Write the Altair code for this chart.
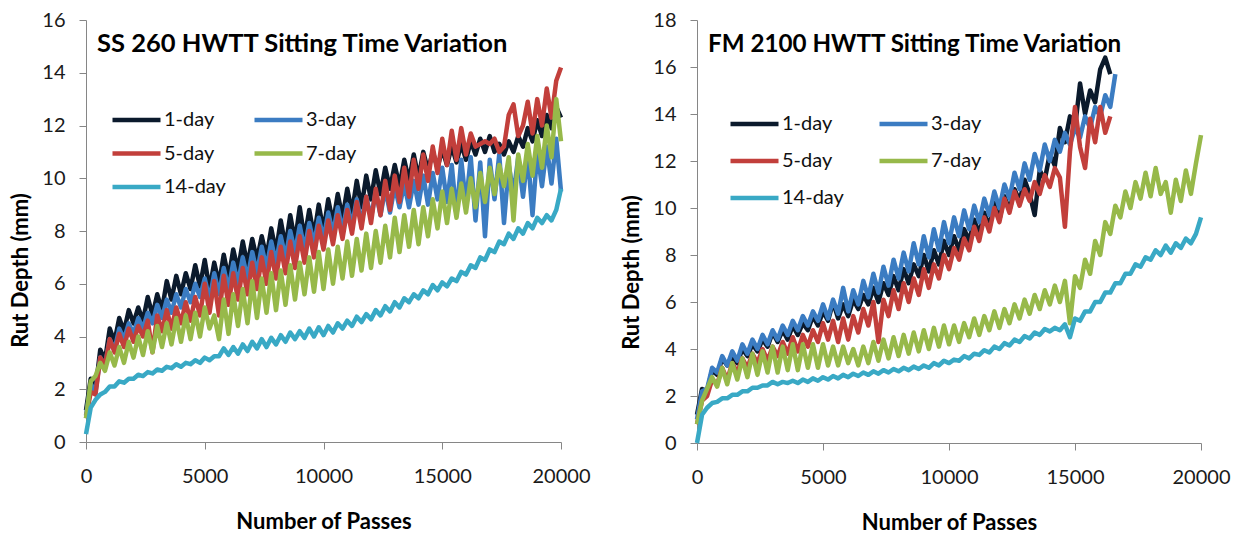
import altair as alt
import pandas as pd

SERIES = ["1-day", "3-day", "5-day", "7-day", "14-day"]
COLORS = ["#0b1a2c", "#3b7cc2", "#c23f3b", "#97b94a", "#39a9c5"]
X_GRID = list(range(0, 20001, 200))  # sampling positions (passes)
X_TICKS = [0, 5000, 10000, 15000, 20000]

# ---- SS 260 (left panel), rut depth (mm) read every 200 passes ----
ss_1day = [1.2, 2.4, 2.0, 3.5, 3.1, 4.3, 3.8, 4.7, 4.2, 5.0,
           4.5, 5.1, 4.6, 5.5, 4.8, 5.6, 5.0, 6.1, 5.4, 6.3,
           5.6, 6.4, 5.8, 6.7, 5.9, 6.9, 5.8, 6.8, 6.0, 7.1,
           6.2, 7.3, 6.5, 7.6, 6.7, 7.7, 6.9, 7.8, 7.0, 8.1,
           7.2, 8.4, 7.4, 8.6, 7.6, 8.9, 7.7, 8.8, 7.8, 9.0,
           8.0, 9.2, 8.3, 9.4, 8.5, 9.6, 8.7, 9.9, 8.9, 10.1,
           9.2, 10.3, 9.4, 10.4, 9.6, 10.5, 9.7, 10.7, 9.9, 10.9,
           10.0, 11.0, 10.3, 11.0, 10.4, 11.1, 10.5, 11.2, 10.6, 11.3,
           10.7, 11.4, 10.9, 11.5, 11.0, 11.6, 11.0, 11.3, 10.9, 11.4,
           11.0, 11.6, 11.2, 11.9, 11.4, 12.2, 11.6, 12.4, 11.9, 12.7,
           12.3]
ss_3day = [1.0, 2.2, 1.9, 3.2, 2.9, 3.9, 3.5, 4.3, 3.9, 4.5,
           4.1, 4.7, 4.3, 4.9, 4.5, 5.2, 4.7, 5.4, 4.9, 5.6,
           5.1, 5.8, 5.3, 6.0, 5.5, 6.2, 5.4, 6.4, 5.6, 6.6,
           5.8, 6.8, 6.0, 7.0, 6.2, 7.2, 6.4, 7.4, 6.6, 7.6,
           6.8, 7.8, 7.0, 8.0, 7.2, 8.2, 7.3, 8.3, 7.5, 8.5,
           7.7, 8.7, 7.9, 8.9, 8.0, 9.0, 8.2, 9.2, 8.3, 9.3,
           8.5, 9.5, 8.6, 9.6, 8.7, 9.7, 8.9, 9.8, 8.9, 9.9,
           9.0, 10.1, 9.0, 10.2, 9.2, 10.4, 9.1, 10.5, 8.6, 10.7,
           9.0, 10.8, 8.4, 10.6, 7.8, 10.7, 9.2, 10.9, 8.3, 10.5,
           9.4, 10.8, 9.3, 10.9, 8.6, 11.0, 9.7, 11.2, 9.8, 11.5,
           9.5]
ss_5day = [0.9, 1.9, 1.8, 3.2, 2.9, 3.9, 3.4, 4.1, 3.6, 4.3,
           3.8, 4.4, 4.0, 4.6, 3.4, 4.8, 4.2, 5.0, 4.3, 5.1,
           4.5, 5.3, 4.6, 5.5, 4.8, 6.0, 4.9, 6.1, 4.8, 6.3,
           5.2, 6.4, 5.4, 6.6, 5.6, 6.8, 5.8, 7.0, 6.0, 7.2,
           6.2, 7.4, 6.4, 7.6, 6.6, 7.8, 6.8, 8.0, 7.0, 8.2,
           7.3, 8.4, 7.5, 8.6, 7.7, 8.8, 7.9, 9.1, 8.1, 9.3,
           8.3, 9.6, 8.6, 9.9, 8.8, 10.1, 9.1, 10.4, 9.3, 10.7,
           9.6, 10.9, 9.9, 11.2, 10.2, 11.5, 10.5, 11.8, 10.7, 11.9,
           10.9, 11.7, 11.2, 11.3, 11.4, 11.3, 11.5, 11.0, 11.2, 12.4,
           12.8, 11.6, 12.0, 12.9, 11.7, 13.0, 12.0, 13.4, 12.3, 13.7,
           14.2]
ss_7day = [0.9, 2.3, 2.5, 3.0, 2.7, 3.4, 2.9, 3.6, 3.0, 3.8,
           3.2, 4.0, 3.3, 4.2, 3.4, 4.4, 3.6, 4.5, 3.7, 4.7,
           3.8, 4.8, 3.9, 4.9, 4.0, 5.1, 4.3, 4.8, 3.9, 5.4,
           4.1, 5.6, 4.4, 5.8, 4.5, 6.1, 4.7, 6.2, 4.9, 6.4,
           5.0, 6.5, 5.2, 6.7, 5.4, 6.8, 5.6, 7.0, 5.7, 7.2,
           5.8, 7.3, 6.0, 7.4, 6.2, 7.6, 6.3, 7.7, 6.5, 7.9,
           6.6, 8.0, 6.8, 8.2, 7.0, 8.5, 7.2, 8.6, 7.4, 8.8,
           7.5, 8.9, 7.8, 9.2, 8.1, 9.5, 8.3, 9.6, 8.5, 9.8,
           8.7, 10.0, 8.9, 10.2, 9.1, 10.4, 9.4, 10.5, 9.7, 10.8,
           8.4, 10.9, 9.9, 11.3, 10.1, 11.6, 10.4, 12.0, 10.8, 13.0,
           11.4]
ss_14day = [0.3, 1.3, 1.6, 1.8, 1.9, 2.1, 2.1, 2.3, 2.25, 2.4,
            2.4, 2.55, 2.5, 2.65, 2.6, 2.75, 2.7, 2.85, 2.8, 2.95,
            2.85, 3.0, 2.95, 3.1, 3.0, 3.2, 3.1, 3.25, 3.25, 3.55,
            3.3, 3.6, 3.35, 3.7, 3.45, 3.8, 3.55, 3.9, 3.6, 3.95,
            3.7, 4.05, 3.8, 4.15, 3.9, 4.2, 3.95, 4.3, 4.0, 4.35,
            4.05, 4.4, 4.15, 4.5, 4.3, 4.6, 4.4, 4.75, 4.55, 4.85,
            4.65, 5.0, 4.8, 5.15, 4.95, 5.3, 5.1, 5.45, 5.3, 5.6,
            5.45, 5.75, 5.6, 5.95, 5.75, 6.05, 5.9, 6.2, 6.1, 6.45,
            6.35, 6.7, 6.6, 7.0, 6.9, 7.3, 7.2, 7.6, 7.5, 7.9,
            7.7, 8.1, 7.9, 8.3, 8.1, 8.5, 8.3, 8.6, 8.4, 8.8,
            9.6]

# ---- FM 2100 (right panel) ----
fm_1day = [1.2, 2.3, 2.2, 3.1, 2.9, 3.6, 3.3, 3.7, 3.4, 4.0,
           3.7, 4.2, 3.9, 4.4, 4.1, 4.7, 4.3, 4.8, 4.4, 5.0,
           4.6, 5.1, 4.8, 5.4, 5.0, 5.6, 5.2, 6.0, 5.3, 5.9,
           5.4, 6.1, 5.7, 6.3, 5.9, 6.6, 6.0, 6.8, 6.3, 7.1,
           6.5, 7.4, 6.8, 7.6, 7.1, 8.0, 7.3, 8.2, 7.6, 8.6,
           8.0, 8.8, 8.2, 9.1, 8.6, 9.5, 8.9, 9.8, 9.2, 10.2,
           9.5, 10.5, 9.9, 10.8, 10.3, 11.2, 10.6, 9.7, 11.6, 11.2,
           12.3, 11.8, 13.4, 12.8, 13.9, 13.4, 15.3, 14.0, 15.0, 14.5,
           15.9, 16.4, 15.7]
fm_3day = [1.0, 2.2, 2.3, 3.2, 3.0, 3.7, 3.3, 3.9, 3.5, 4.2,
           3.8, 4.4, 4.0, 4.6, 4.2, 4.8, 4.4, 5.0, 4.6, 5.2,
           4.8, 5.4, 5.0, 5.6, 5.2, 5.9, 5.3, 6.1, 5.5, 6.6,
           5.6, 6.5, 5.9, 6.9, 6.2, 7.2, 6.4, 7.5, 6.7, 7.8,
           7.0, 8.1, 7.3, 8.5, 7.6, 8.8, 7.9, 9.1, 8.2, 9.4,
           8.5, 9.6, 8.8, 9.9, 9.1, 10.1, 9.4, 10.4, 9.7, 10.7,
           10.0, 11.0, 10.4, 11.5, 10.8, 11.9, 11.2, 12.3, 11.6, 12.7,
           12.0, 12.9, 12.4, 13.2, 12.7, 13.4, 13.0, 13.9, 13.4, 14.3,
           13.9, 14.8, 14.3, 15.7]
fm_5day = [0.8, 1.8, 2.0, 2.7, 2.5, 3.2, 2.7, 3.4, 3.0, 3.6,
           3.2, 3.8, 3.4, 4.0, 3.5, 4.1, 3.7, 4.3, 3.8, 4.5,
           3.9, 4.6, 4.1, 4.8, 4.3, 5.1, 4.4, 5.2, 4.3, 5.3,
           4.4, 5.4, 4.7, 5.7, 5.0, 6.0, 4.3, 6.1, 5.4, 6.5,
           5.7, 6.8, 6.0, 7.0, 6.3, 7.4, 6.6, 7.6, 7.0, 8.0,
           7.4, 8.3, 7.8, 8.7, 8.2, 9.2, 8.6, 9.6, 9.0, 10.0,
           9.4, 10.4, 9.8, 10.7, 10.1, 10.8, 10.3, 11.1, 10.6, 11.4,
           10.9, 11.7, 11.3, 9.2, 12.4, 14.3, 12.6, 11.7, 13.8, 12.8,
           14.3, 13.2, 13.9]
fm_7day = [0.8, 1.8, 2.3, 2.8, 2.4, 3.2, 2.5, 3.4, 2.7, 3.6,
           2.8, 3.8, 2.9, 3.9, 3.0, 4.1, 3.0, 4.1, 3.1, 4.2,
           3.1, 4.2, 3.2, 4.2, 3.2, 4.2, 3.3, 4.1, 3.3, 4.1,
           3.4, 4.0, 3.3, 4.1, 3.4, 4.3, 3.5, 4.4, 3.6, 4.5,
           3.7, 4.6, 3.8, 4.7, 3.9, 4.8, 4.0, 4.9, 4.1, 5.0,
           4.2, 5.0, 4.3, 5.1, 4.5, 5.3, 4.6, 5.4, 4.8, 5.6,
           4.9, 5.7, 5.1, 5.9, 5.3, 6.1, 5.5, 6.3, 5.7, 6.5,
           5.9, 6.7, 6.0, 6.9, 5.1, 7.1, 6.6, 7.8, 7.2, 8.6,
           8.0, 9.4, 8.9, 10.1, 9.6, 10.7, 10.0, 11.1, 10.4, 11.5,
           10.5, 11.7, 10.6, 11.1, 9.8, 11.2, 10.3, 11.6, 10.6, 11.9,
           13.1]
fm_14day = [0.0, 1.2, 1.5, 1.7, 1.75, 1.9, 1.9, 2.05, 2.05, 2.2,
            2.2, 2.35, 2.35, 2.45, 2.45, 2.6, 2.5, 2.6, 2.55, 2.65,
            2.55, 2.7, 2.6, 2.75, 2.65, 2.8, 2.7, 2.85, 2.75, 2.9,
            2.8, 2.95, 2.85, 3.0, 2.9, 3.05, 2.95, 3.1, 3.0, 3.15,
            3.05, 3.2, 3.1, 3.25, 3.15, 3.3, 3.2, 3.4, 3.3, 3.5,
            3.4, 3.55, 3.5, 3.7, 3.6, 3.8, 3.75, 3.95, 3.85, 4.1,
            4.0, 4.25, 4.15, 4.4, 4.3, 4.55, 4.45, 4.7, 4.6, 4.85,
            4.75, 4.9, 4.8, 5.05, 4.5, 5.3, 5.2, 5.6, 5.6, 6.0,
            6.0, 6.4, 6.4, 6.8, 6.8, 7.2, 7.2, 7.6, 7.5, 7.9,
            7.8, 8.2, 8.0, 8.4, 8.1, 8.5, 8.3, 8.7, 8.5, 8.9,
            9.6]

FONT = "Lato"
AXIS_GREY = "#868686"


def frame(lists):
    rows = []
    for name, vals in zip(SERIES, lists):
        for x, v in zip(X_GRID, vals):
            rows.append({"passes": x, "rut": v, "series": name})
    return pd.DataFrame(rows)


def panel(df, title, title_size, ymax, width, height, ytitle_y,
          leg_x, leg_y, col_pad, row_pad):
    lines = alt.Chart(df).mark_line(strokeWidth=4.5, strokeJoin="round").encode(
        x=alt.X("passes:Q",
                scale=alt.Scale(domain=[0, 20000], nice=False),
                axis=alt.Axis(values=X_TICKS, format="d", title="Number of Passes",
                              grid=False, domainColor=AXIS_GREY, tickColor=AXIS_GREY,
                              tickSize=7, labelFont=FONT, labelFontSize=20,
                              labelColor="#1a1a1a", labelPadding=17, labelFlush=False,
                              titleFont=FONT, titleFontSize=22, titleFontWeight="bold",
                              titleColor="#000000", titlePadding=25)),
        y=alt.Y("rut:Q",
                scale=alt.Scale(domain=[0, ymax], nice=False),
                axis=alt.Axis(values=list(range(0, ymax + 1, 2)), title="Rut Depth (mm)",
                              grid=False, domainColor=AXIS_GREY, tickColor=AXIS_GREY,
                              tickSize=7, labelFont=FONT, labelFontSize=20,
                              labelColor="#1a1a1a", labelPadding=14,
                              titleFont=FONT, titleFontSize=22, titleFontWeight="bold",
                              titleColor="#000000", titlePadding=9, titleY=ytitle_y)),
        color=alt.Color("series:N",
                        scale=alt.Scale(domain=SERIES, range=COLORS),
                        legend=alt.Legend(title=None, orient="none", legendX=leg_x,
                                          legendY=leg_y, columns=2, direction="horizontal",
                                          symbolType="stroke",
                                          symbolSize=2304, symbolStrokeWidth=4.5,
                                          clipHeight=24, labelFont=FONT, labelFontSize=20,
                                          labelColor="#111111", labelOffset=1,
                                          columnPadding=col_pad, rowPadding=row_pad,
                                          padding=0)),
    )
    label = alt.Chart(pd.DataFrame({"t": [title]})).mark_text(
        font=FONT, fontSize=title_size, fontWeight="bold", align="left",
        baseline="alphabetic", color="#000000",
    ).encode(text="t:N", x=alt.value(11), y=alt.value(32))
    return alt.layer(lines, label).properties(width=width, height=height)


left = panel(frame([ss_1day, ss_3day, ss_5day, ss_7day, ss_14day]),
             "SS 260 HWTT Sitting Time Variation", 25.5, 16, 475, 422, 250,
             24, 88, 26, 9.5)
right = panel(frame([fm_1day, fm_3day, fm_5day, fm_7day, fm_14day]),
              "FM 2100 HWTT Sitting Time Variation", 24.2, 18, 504, 423, 252,
              31, 92, 33, 13)

chart = alt.hconcat(left, right, spacing=136, bounds="flush").resolve_scale(
    color="independent"
).properties(
    padding={"left": 9, "top": 10, "right": 5, "bottom": 0}
).configure_view(stroke=None)

chart.save("out.html", embed_options={"renderer": "svg", "actions": False})
